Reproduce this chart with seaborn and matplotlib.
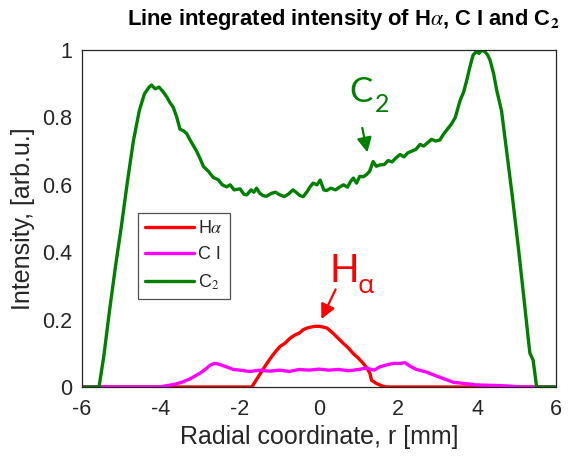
import numpy as np
import pandas as pd
import matplotlib
matplotlib.use("Agg")
import matplotlib.pyplot as plt
import seaborn as sns

# ---------------- data ----------------
c2_r = [-6.0, -5.57, -5.45, -5.3, -5.15, -5.0, -4.85, -4.7, -4.55, -4.42, -4.3, -4.24, -4.15, -4.05,
        -3.94, -3.85, -3.78, -3.69, -3.6, -3.52, -3.43, -3.35, -3.25, -3.1, -3.0, -2.93, -2.8, -2.68,
        -2.55, -2.45, -2.34, -2.25, -2.15, -2.0, -1.9, -1.83, -1.72, -1.65, -1.58, -1.5, -1.42, -1.33,
        -1.2, -1.1, -0.99, -0.88, -0.78, -0.66, -0.55, -0.48, -0.40, -0.3, -0.22, -0.15, -0.05, 0.03,
        0.12, 0.19, 0.3, 0.42, 0.53, 0.62, 0.72, 0.8, 0.87, 0.95, 1.03, 1.12, 1.2, 1.28, 1.37, 1.45,
        1.54, 1.65, 1.75, 1.85, 1.95, 2.05, 2.15, 2.25, 2.35, 2.45, 2.56, 2.65, 2.75, 2.85, 2.95, 3.06,
        3.15, 3.25, 3.35, 3.45, 3.57, 3.66, 3.74, 3.82, 3.9, 3.98, 4.05, 4.12, 4.2, 4.27, 4.33, 4.42,
        4.5, 4.62, 4.75, 4.9, 5.05, 5.2, 5.3, 5.34, 5.42, 5.51, 6.0]
c2_I = [0, 0, 0.09, 0.23, 0.36, 0.48, 0.61, 0.73, 0.82, 0.87, 0.89, 0.896, 0.885, 0.89,
        0.875, 0.86, 0.845, 0.83, 0.80, 0.765, 0.76, 0.752, 0.73, 0.70, 0.675, 0.655, 0.64, 0.622,
        0.615, 0.60, 0.594, 0.60, 0.585, 0.588, 0.572, 0.57, 0.585, 0.578, 0.59, 0.575, 0.568, 0.566,
        0.575, 0.578, 0.57, 0.565, 0.572, 0.585, 0.575, 0.568, 0.565, 0.58, 0.595, 0.605, 0.60, 0.614,
        0.585, 0.583, 0.59, 0.585, 0.594, 0.60, 0.593, 0.61, 0.62, 0.605, 0.625, 0.624, 0.63, 0.64, 0.669, 0.655,
        0.659, 0.66, 0.672, 0.668, 0.68, 0.69, 0.683, 0.695, 0.70, 0.705, 0.72, 0.715, 0.725, 0.735, 0.73, 0.733,
        0.75, 0.765, 0.78, 0.80, 0.85, 0.875, 0.91, 0.95, 0.985, 0.995, 0.99, 1.0, 0.995, 0.985, 0.97, 0.93,
        0.88, 0.82, 0.70, 0.56, 0.41, 0.25, 0.14, 0.10, 0.08, 0, 0]

ha_r = [-6.0, -1.7, -1.62, -1.54, -1.43, -1.32, -1.2, -1.1, -0.99, -0.86, -0.73, -0.6, -0.5, -0.4,
        -0.3, -0.2, -0.1, 0.0, 0.1, 0.2, 0.35, 0.48, 0.61, 0.75, 0.86, 1.0, 1.12, 1.22, 1.29, 1.33,
        1.46, 1.6, 1.7, 6.0]
ha_I = [0, 0, 0.015, 0.03, 0.05, 0.07, 0.09, 0.105, 0.12, 0.13, 0.145, 0.155, 0.16, 0.17,
        0.175, 0.178, 0.18, 0.18, 0.178, 0.175, 0.16, 0.145, 0.13, 0.115, 0.10, 0.085, 0.07, 0.055, 0.04, 0.02,
        0.01, 0.003, 0, 0]

ci_r = [-6.0, -4.05, -3.85, -3.65, -3.45, -3.25, -3.1, -3.0, -2.85, -2.75, -2.65, -2.55, -2.45, -2.3,
        -2.17, -2.0, -1.75, -1.5, -1.25, -1.0, -0.75, -0.5, -0.25, 0.0, 0.25, 0.5, 0.75, 1.0, 1.2, 1.4,
        1.54, 1.7, 1.88, 2.05, 2.18, 2.3, 2.47, 2.7, 2.9, 3.1, 3.4, 3.7, 4.0, 4.3, 4.6, 4.9, 5.1, 6.0]
ci_I = [0, 0, 0.004, 0.008, 0.015, 0.025, 0.035, 0.042, 0.055, 0.065, 0.07, 0.068, 0.064, 0.058,
        0.052, 0.05, 0.046, 0.05, 0.047, 0.05, 0.046, 0.052, 0.05, 0.053, 0.05, 0.052, 0.048, 0.052, 0.056, 0.05,
        0.06, 0.065, 0.07, 0.07, 0.072, 0.062, 0.052, 0.045, 0.036, 0.027, 0.014, 0.01, 0.006, 0.005, 0.004, 0.002, 0, 0]

x_ticks = [-6, -4, -2, 0, 2, 4, 6]
y_ticks = [0, 0.2, 0.4, 0.6, 0.8, 1]
y_ticklabels = ["0", "0.2", "0.4", "0.6", "0.8", "1"]

# ---------------- plot ----------------
sns.set_style("white")
plt.rcParams['font.family'] = ['Liberation Sans', 'DejaVu Sans']
plt.rcParams['mathtext.fontset'] = 'stix'

fig = plt.figure(figsize=(5.68, 4.59), dpi=100)
ax = fig.add_axes([0.1444, 0.1569, 0.9789 - 0.1444, 0.891 - 0.1569])

lw = 2.4
sns.lineplot(x=ha_r, y=ha_I, ax=ax, color='#ff0000', lw=lw, label=r'H$\alpha$', sort=False)
sns.lineplot(x=ci_r, y=ci_I, ax=ax, color='#ff00ff', lw=lw, label='C I', sort=False)
sns.lineplot(x=c2_r, y=c2_I, ax=ax, color='#008000', lw=lw, label=r'C$_2$', sort=False)

ax.set_xlim(-6, 6)
ax.set_ylim(0, 1)
ax.set_xticks(x_ticks)
ax.set_xticklabels([str(t) for t in x_ticks])
ax.set_yticks(y_ticks)
ax.set_yticklabels(y_ticklabels)

tc = '#262626'
ax.tick_params(direction='in', length=4, width=0.8, colors=tc, labelsize=15.5)
ax.tick_params(axis='x', pad=9)
ax.tick_params(axis='y', pad=7)
for s in ax.spines.values():
    s.set_color(tc)
    s.set_linewidth(0.9)

ax.set_xlabel('Radial coordinate, r [mm]', fontsize=18, color=tc, labelpad=3)
ax.set_ylabel('Intensity, [arb.u.]', fontsize=18, color=tc, labelpad=5)
fig.text(343 / 568, 1 - 20 / 459,
         r'Line integrated intensity of H$\alpha$, C I and C$_\mathbf{2}$',
         fontsize=15.8, fontweight='bold', color='black', ha='center', va='center')

leg = ax.legend(loc='upper left', bbox_to_anchor=(0.118, 0.516), borderaxespad=0,
                fontsize=13, frameon=True, fancybox=False, handlelength=2.7,
                handletextpad=0.2, labelspacing=0.5, borderpad=0.4)
leg.get_frame().set_edgecolor(tc)
leg.get_frame().set_linewidth(0.9)
for t in leg.get_texts():
    t.set_color(tc)

# annotations
afont = ['Lato', 'Open Sans', 'DejaVu Sans']
gfont = ['Open Sans', 'DejaVu Sans']
ax.text(0.26, 0.312, 'H', color='#ff0000', fontsize=28, family=afont, ha='left', va='baseline')
ax.text(0.97, 0.279, 'α', color='#ff0000', fontsize=19, family=gfont, ha='left', va='baseline')
ax.annotate('', xy=(0.03, 0.194), xytext=(0.45, 0.297),
            arrowprops=dict(arrowstyle='-|>', color='#ff0000', lw=1.6, mutation_scale=22))

ax.text(0.76, 0.846, 'C', color='#008000', fontsize=25, family=afont, ha='left', va='baseline')
ax.text(1.42, 0.816, '2', color='#008000', fontsize=18, family=afont, ha='left', va='baseline')
ax.annotate('', xy=(1.24, 0.688), xytext=(1.08, 0.777),
            arrowprops=dict(arrowstyle='-|>', color='#008000', lw=1.6, mutation_scale=22))

fig.savefig('out.png', dpi=100)
